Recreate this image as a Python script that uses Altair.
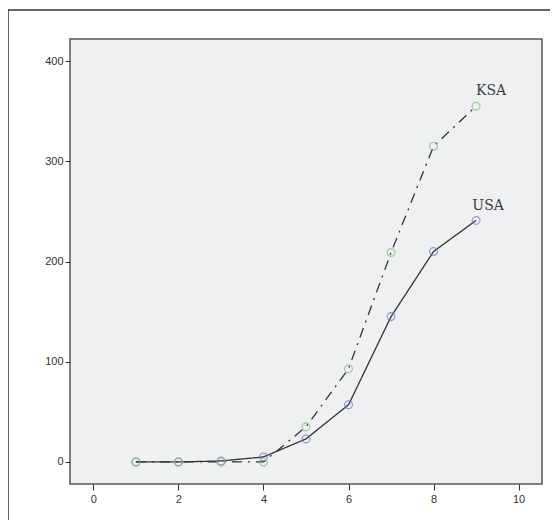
import altair as alt
import pandas as pd

x_vals = [1, 2, 3, 4, 5, 6, 7, 8, 9]
usa = [0, 0, 1, 5, 23, 57, 145, 210, 241]
ksa = [0, 0, 0, 0, 35, 93, 209, 315, 355]
series_names = ["USA", "KSA"]

rows = []
for name, vals in zip(series_names, [usa, ksa]):
    for xv, yv in zip(x_vals, vals):
        rows.append({"x": xv, "y": yv, "series": name})
df = pd.DataFrame(rows)

xs = alt.Scale(domain=[-0.55, 10.55], nice=False, zero=False)
ys = alt.Scale(domain=[-22, 422], nice=False, zero=False)

xenc = alt.X("x:Q", scale=xs, axis=alt.Axis(values=[0, 2, 4, 6, 8, 10], title=None, grid=False,
                                               domain=False, tickSize=6, tickColor="#333",
                                               labelFont="Liberation Sans", labelFontSize=11,
                                               labelColor="#333", labelPadding=3))
yenc = alt.Y("y:Q", scale=ys, axis=alt.Axis(values=[0, 100, 200, 300, 400], title=None, grid=False,
                                               domain=False, tickSize=5, tickColor="#333",
                                               labelFont="Liberation Sans", labelFontSize=11,
                                               labelColor="#333", labelPadding=2))

base = alt.Chart(df)

lines = base.mark_line(color="#333333", strokeWidth=1.3).encode(
    x=xenc, y=yenc,
    detail="series:N",
    strokeDash=alt.StrokeDash("series:N", scale=alt.Scale(domain=series_names, range=[[1, 0], [10, 6, 2, 6]]), legend=None),
)

points = base.mark_point(filled=False, size=60, strokeWidth=1.3).encode(
    x=xenc, y=yenc,
    color=alt.Color("series:N", scale=alt.Scale(domain=series_names, range=["#7474c4", "#7cc07c"]), legend=None),
    order=alt.Order("series:N", sort="descending"),
)

last = df[df["x"] == 9]
labels_ksa = alt.Chart(last[last["series"] == "KSA"]).mark_text(
    font="DejaVu Serif", fontSize=14, color="#3a3a3a", dx=15, dy=-15
).encode(x=alt.X("x:Q", scale=xs), y=alt.Y("y:Q", scale=ys), text="series:N")
labels_usa = alt.Chart(last[last["series"] == "USA"]).mark_text(
    font="DejaVu Serif", fontSize=14, color="#3a3a3a", dx=12, dy=-14
).encode(x=alt.X("x:Q", scale=xs), y=alt.Y("y:Q", scale=ys), text="series:N")

frame = alt.Chart(pd.DataFrame({"a": [0]})).mark_rect(fill=None, stroke="#333", strokeWidth=1.5).encode(
    x=alt.value(-62), x2=alt.value(700), y=alt.value(-29), y2=alt.value(700)
)

chart = alt.layer(frame, lines, points, labels_ksa, labels_usa).properties(
    width=472, height=445,
    autosize=alt.AutoSizeParams(type="none"),
    padding={"left": 62, "top": 31, "right": 8, "bottom": 36},
    background="white",
).configure_view(
    fill="#eff0f2", stroke="#555", strokeWidth=1.5
)

chart.save("out.html", embed_options={"renderer": "svg", "actions": False})
